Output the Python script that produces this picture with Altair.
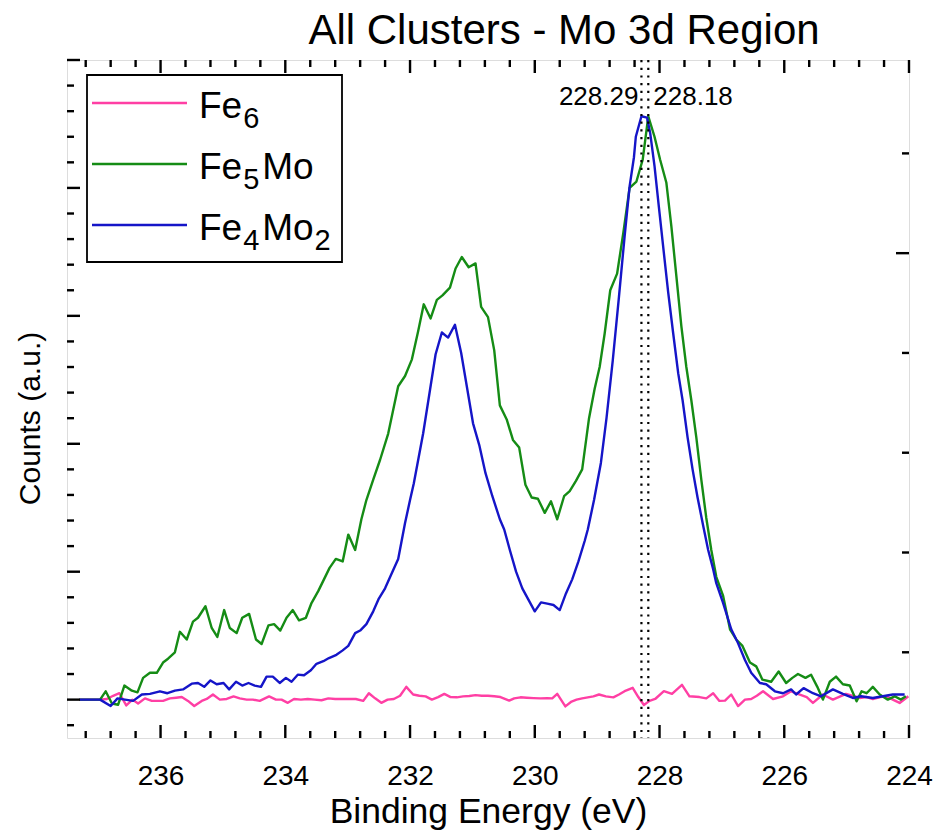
import altair as alt
import pandas as pd

FONT = "Liberation Sans"

# ---- Mo 3d spectra: binding energy (eV) and background-subtracted counts (a.u.) ----
fe6_energy = [237.30, 236.97, 236.86, 236.76, 236.66, 236.55, 236.45, 236.36, 236.25, 236.14,
              236.05, 235.96, 235.85, 235.75, 235.66, 235.56, 235.46, 235.34, 235.26, 235.16,
              235.05, 234.94, 234.83, 234.73, 234.62, 234.52, 234.41, 234.26, 234.15, 234.06,
              233.96, 233.86, 233.75, 233.64, 233.53, 233.42, 233.31, 233.20, 233.09, 232.98,
              232.87, 232.75, 232.66, 232.56, 232.46, 232.36, 232.26, 232.16, 232.06, 231.95,
              231.85, 231.75, 231.65, 231.55, 231.45, 231.35, 231.25, 231.15, 231.05, 230.95,
              230.85, 230.75, 230.65, 230.55, 230.45, 230.41, 230.33, 230.23, 230.13, 230.02,
              229.91, 229.80, 229.72, 229.64, 229.51, 229.41, 229.33, 229.24, 229.15, 229.06,
              228.97, 228.86, 228.74, 228.65, 228.56, 228.43, 228.34, 228.25, 228.16, 228.07,
              227.93, 227.80, 227.64, 227.52, 227.36, 227.25, 227.14, 227.04, 226.95, 226.85,
              226.74, 226.63, 226.53, 226.44, 226.34, 226.18, 226.02, 225.89, 225.75, 225.64,
              225.54, 225.38, 225.22, 225.01, 224.90, 224.79, 224.68, 224.58, 224.46, 224.36,
              224.26, 224.15, 224.01]
fe6_counts = [0.000, 0.000, 0.005, 0.030, 0.050, -0.045, 0.000, -0.030, 0.010, -0.010,
              -0.010, -0.010, 0.010, 0.015, 0.020, -0.010, -0.050, -0.010, 0.005, 0.040,
              0.000, 0.005, 0.025, 0.010, 0.000, 0.000, -0.010, 0.025, 0.000, 0.000,
              -0.025, 0.005, 0.000, 0.005, 0.000, -0.005, 0.010, 0.005, 0.005, 0.005,
              0.005, -0.010, 0.050, 0.010, -0.025, 0.000, 0.005, 0.030, 0.100, 0.040,
              0.030, 0.025, 0.000, 0.020, 0.045, 0.020, 0.018, 0.025, 0.028, 0.035,
              0.030, 0.030, 0.026, 0.020, 0.000, -0.008, 0.010, 0.018, 0.015, 0.012,
              0.010, 0.012, 0.010, 0.045, -0.053, -0.015, 0.000, 0.010, 0.018, 0.025,
              0.040, 0.025, 0.018, 0.040, 0.066, 0.092, 0.020, -0.042, -0.010, 0.005,
              0.066, 0.045, 0.116, 0.026, 0.020, 0.010, 0.050, -0.010, -0.008, 0.040,
              -0.050, 0.000, 0.005, 0.030, 0.065, 0.005, 0.026, 0.065, 0.040, 0.020,
              -0.026, 0.040, 0.000, 0.045, 0.030, 0.013, 0.020, 0.005, 0.020, 0.026,
              0.000, -0.026, 0.026]

fe5mo_energy = [237.30, 236.97, 236.88, 236.78, 236.68, 236.58, 236.46, 236.37, 236.28, 236.17,
                236.06, 235.96, 235.88, 235.77, 235.69, 235.58, 235.48, 235.40, 235.28, 235.18,
                235.09, 234.98, 234.89, 234.78, 234.69, 234.58, 234.47, 234.38, 234.27, 234.18,
                234.08, 233.98, 233.88, 233.78, 233.67, 233.58, 233.47, 233.38, 233.29, 233.19,
                233.08, 232.99, 232.88, 232.78, 232.70, 232.59, 232.48, 232.35, 232.19, 232.08,
                231.97, 231.87, 231.78, 231.67, 231.57, 231.48, 231.36, 231.27, 231.17, 231.06,
                230.95, 230.86, 230.75, 230.65, 230.56, 230.45, 230.35, 230.25, 230.15, 230.05,
                229.95, 229.84, 229.74, 229.64, 229.53, 229.44, 229.34, 229.24, 229.13, 229.04,
                228.96, 228.88, 228.79, 228.68, 228.58, 228.48, 228.37, 228.27, 228.18, 228.08,
                227.99, 227.89, 227.81, 227.73, 227.65, 227.57, 227.49, 227.41, 227.33, 227.25,
                227.17, 227.09, 226.98, 226.87, 226.77, 226.67, 226.55, 226.45, 226.35, 226.21,
                226.09, 225.97, 225.87, 225.78, 225.66, 225.57, 225.47, 225.38, 225.27, 225.17,
                225.06, 224.95, 224.84, 224.76, 224.68, 224.58, 224.47, 224.34, 224.23, 224.13,
                224.05]
fe5mo_counts = [0.000, 0.000, 0.065, -0.030, -0.040, 0.110, 0.070, 0.057, 0.170, 0.210,
                0.210, 0.290, 0.320, 0.370, 0.530, 0.470, 0.610, 0.640, 0.730, 0.560,
                0.490, 0.700, 0.560, 0.520, 0.640, 0.670, 0.470, 0.435, 0.580, 0.590,
                0.540, 0.640, 0.700, 0.620, 0.640, 0.755, 0.850, 0.940, 1.030, 1.100,
                1.080, 1.290, 1.170, 1.410, 1.560, 1.720, 1.875, 2.080, 2.450, 2.530,
                2.660, 2.880, 3.090, 2.980, 3.125, 3.160, 3.220, 3.370, 3.460, 3.380,
                3.410, 3.070, 2.990, 2.730, 2.300, 2.190, 2.030, 1.970, 1.680, 1.580,
                1.570, 1.460, 1.550, 1.410, 1.590, 1.630, 1.710, 1.800, 2.200, 2.430,
                2.600, 2.860, 3.200, 3.330, 3.650, 4.000, 4.050, 4.220, 4.560, 4.400,
                4.220, 4.040, 3.700, 3.310, 2.920, 2.600, 2.340, 2.050, 1.720, 1.420,
                1.170, 0.960, 0.810, 0.550, 0.470, 0.420, 0.290, 0.260, 0.156, 0.140,
                0.220, 0.130, 0.170, 0.200, 0.170, 0.195, 0.100, 0.000, 0.140, 0.180,
                0.120, 0.110, -0.013, 0.065, 0.050, 0.100, 0.040, 0.000, 0.026, 0.000,
                0.026]

fe4mo2_energy = [237.30, 236.97, 236.80, 236.69, 236.57, 236.44, 236.30, 236.17, 236.01, 235.89,
                 235.77, 235.64, 235.50, 235.40, 235.30, 235.20, 235.10, 234.99, 234.90, 234.79,
                 234.69, 234.59, 234.49, 234.39, 234.30, 234.20, 234.09, 233.99, 233.90, 233.80,
                 233.70, 233.59, 233.50, 233.39, 233.30, 233.18, 233.08, 232.99, 232.88, 232.80,
                 232.70, 232.59, 232.50, 232.40, 232.30, 232.19, 232.08, 232.00, 231.94, 231.79,
                 231.68, 231.59, 231.49, 231.39, 231.28, 231.18, 231.09, 230.99, 230.89, 230.79,
                 230.68, 230.56, 230.49, 230.40, 230.30, 230.20, 230.10, 230.00, 229.90, 229.80,
                 229.70, 229.60, 229.50, 229.40, 229.30, 229.20, 229.15, 229.05, 228.94, 228.85,
                 228.75, 228.65, 228.56, 228.48, 228.41, 228.38, 228.29, 228.20, 228.15, 228.08,
                 228.01, 227.93, 227.86, 227.78, 227.70, 227.63, 227.55, 227.47, 227.39, 227.30,
                 227.22, 227.14, 227.09, 226.98, 226.85, 226.74, 226.63, 226.53, 226.39, 226.29,
                 226.15, 226.02, 225.89, 225.81, 225.69, 225.54, 225.41, 225.22, 225.06, 224.90,
                 224.77, 224.58, 224.42, 224.26, 224.07]
fe4mo2_counts = [0.000, 0.000, -0.050, 0.010, 0.000, -0.010, 0.040, 0.045, 0.065, 0.050,
                 0.070, 0.080, 0.125, 0.130, 0.100, 0.150, 0.120, 0.130, 0.080, 0.140,
                 0.110, 0.130, 0.110, 0.100, 0.180, 0.180, 0.130, 0.170, 0.140, 0.195,
                 0.190, 0.230, 0.280, 0.300, 0.325, 0.350, 0.385, 0.420, 0.520, 0.540,
                 0.590, 0.690, 0.790, 0.870, 0.980, 1.100, 1.380, 1.560, 1.690, 2.080,
                 2.420, 2.700, 2.870, 2.830, 2.930, 2.710, 2.450, 2.160, 1.990, 1.770,
                 1.590, 1.410, 1.330, 1.170, 1.000, 0.870, 0.780, 0.690, 0.760, 0.750,
                 0.740, 0.700, 0.830, 0.940, 1.080, 1.240, 1.330, 1.560, 1.850, 2.200,
                 2.650, 3.150, 3.620, 4.010, 4.240, 4.400, 4.560, 4.550, 4.430, 4.170,
                 3.850, 3.490, 3.180, 2.860, 2.550, 2.340, 2.050, 1.800, 1.580, 1.360,
                 1.170, 1.020, 0.910, 0.755, 0.550, 0.440, 0.310, 0.210, 0.130, 0.120,
                 0.065, 0.050, 0.080, 0.040, 0.090, 0.050, 0.026, 0.080, 0.045, 0.013,
                 0.026, 0.013, 0.026, 0.040, 0.040]

series_names = ["Fe6", "Fe5Mo", "Fe4Mo2"]
series_colors = ["#ff3fa4", "#158c15", "#1515c8"]
# legend labels as (text, is_subscript) runs
legend_runs = [[("Fe", False), ("6", True)],
               [("Fe", False), ("5", True), ("Mo", False)],
               [("Fe", False), ("4", True), ("Mo", False), ("2", True)]]

# axis tick values
energy_major = [236, 234, 232, 230, 228, 226, 224]
energy_minor = [round(224 + 0.4 * k, 1) for k in range(34)]
energy_minor = [v for v in energy_minor if v not in energy_major]
counts_major = [0, 1, 2, 3, 4, 5]
counts_minor = [round(-0.2 + 0.2 * k, 1) for k in range(26)]
counts_minor = [v for v in counts_minor if abs(v - round(v)) > 1e-9]
right_major = [3.49]
right_minor = [4.27, 2.71, 1.93, 1.15, 0.37]

W, H = 842, 678
MAJ, MIN = 13, 7

x_scale = alt.Scale(domain=[224, 237.5], reverse=True, nice=False, zero=False)
y_scale = alt.Scale(domain=[-0.3, 5.0], nice=False, zero=False)
color_scale = alt.Scale(domain=series_names, range=series_colors)

frames = []
for name, e, c in [(series_names[0], fe6_energy, fe6_counts),
                   (series_names[1], fe5mo_energy, fe5mo_counts),
                   (series_names[2], fe4mo2_energy, fe4mo2_counts)]:
    frames.append(pd.DataFrame({"energy": e, "counts": c, "series": name}))
spectra = pd.concat(frames, ignore_index=True)

lines = alt.Chart(spectra).mark_line(strokeWidth=2.4, strokeJoin="round").encode(
    x=alt.X("energy:Q", scale=x_scale,
            axis=alt.Axis(values=energy_major, format="d", grid=False, ticks=False, tickSize=0,
                          domain=False, labelFont=FONT, labelFontSize=28, labelColor="black",
                          labelPadding=24, labelFlush=False,
                          title="Binding Energy (eV)", titleFont=FONT, titleFontSize=35.5,
                          titleFontWeight="normal", titleColor="black",
                          titleBaseline="alphabetic", titleY=84)),
    y=alt.Y("counts:Q", scale=y_scale,
            axis=alt.Axis(labels=False, ticks=False, domain=False, grid=False,
                          title="Counts (a.u.)", titleFont=FONT, titleFontSize=30,
                          titleFontWeight="normal", titleColor="black", titleAngle=-90,
                          titleAlign="center", titleBaseline="middle",
                          titleX=-37, titleY=358)),
    color=alt.Color("series:N", scale=color_scale, legend=None),
    detail="series:N",
)

# frame ticks, pointing inward on all four sides
def x_ticks(vals, y0, y1):
    return alt.Chart(pd.DataFrame({"energy": vals})).mark_rule(color="black", strokeWidth=2.4).encode(
        x=alt.X("energy:Q", scale=x_scale), y=alt.value(y0), y2=alt.value(y1))

def y_ticks(vals, x0, x1):
    return alt.Chart(pd.DataFrame({"counts": vals})).mark_rule(color="black", strokeWidth=2.4).encode(
        y=alt.Y("counts:Q", scale=y_scale), x=alt.value(x0), x2=alt.value(x1))

ticks = [
    x_ticks(energy_major, H, H - MAJ), x_ticks(energy_minor, H, H - MIN),
    x_ticks(energy_major, 0, MAJ), x_ticks(energy_minor, 0, MIN),
    y_ticks(counts_major, 0, MAJ), y_ticks(counts_minor, 0, MIN),
    y_ticks(right_major, W, W - MAJ), y_ticks(right_minor, W, W - MIN),
]

# peak maxima of the Mo-containing clusters
peaks = []
for name, e, c in [(series_names[2], fe4mo2_energy, fe4mo2_counts),
                   (series_names[1], fe5mo_energy, fe5mo_counts)]:
    i = max(range(len(c)), key=lambda k: c[k])
    peaks.append({"series": name, "energy": e[i], "label": f"{e[i]:.2f}"})
peak_df = pd.DataFrame(peaks)

peak_lines = alt.Chart(peak_df).mark_rule(color="black", strokeWidth=2.2, strokeDash=[2.2, 5.5]).encode(
    x=alt.X("energy:Q", scale=x_scale), y=alt.value(0), y2=alt.value(H))

peak_left = alt.Chart(peak_df.iloc[[0]]).mark_text(
    font=FONT, fontSize=26, align="right", baseline="middle", dx=-3, color="black").encode(
    x=alt.X("energy:Q", scale=x_scale), y=alt.value(37), text="label:N")
peak_right = alt.Chart(peak_df.iloc[[1]]).mark_text(
    font=FONT, fontSize=26, align="left", baseline="middle", dx=5, color="black").encode(
    x=alt.X("energy:Q", scale=x_scale), y=alt.value(37), text="label:N")

# chart title, drawn above the frame
title = alt.Chart(pd.DataFrame({"t": ["All Clusters - Mo 3d Region"]})).mark_text(
    font=FONT, fontSize=42, align="center", baseline="alphabetic", color="black").encode(
    x=alt.value(497), y=alt.value(-16), text="t:N")

# legend box with line samples and subscripted labels
LEG_FS, SUB_FS, SUB_SHIFT, SUB_ADV = 37, 29, 10, 19.0
ADV = {"F": 0.611, "e": 0.556, "M": 0.833, "o": 0.556}

legend_box = alt.Chart(pd.DataFrame({"k": [0]})).mark_rect(
    fill="white", stroke="black", strokeWidth=1.8).encode(
    x=alt.value(20), x2=alt.value(275), y=alt.value(15), y2=alt.value(202))

legend_layers = [legend_box]
for i, name in enumerate(series_names):
    row = pd.DataFrame({"series": [name]})
    legend_layers.append(alt.Chart(row).mark_rule(strokeWidth=2.4).encode(
        x=alt.value(25), x2=alt.value(120), y=alt.value(43 + 61 * i),
        color=alt.Color("series:N", scale=color_scale, legend=None)))
    x = 132.0
    for text, sub in legend_runs[i]:
        fs = SUB_FS if sub else LEG_FS
        base = 58 + 61 * i + (SUB_SHIFT if sub else 0)
        legend_layers.append(alt.Chart(pd.DataFrame({"t": [text]})).mark_text(
            font=FONT, fontSize=fs, align="left", baseline="alphabetic", color="black").encode(
            x=alt.value(x), y=alt.value(base), text="t:N"))
        x += SUB_ADV if sub else sum(ADV.get(ch, 0.556) for ch in text) * fs + 1

chart = alt.layer(
    lines, *ticks, peak_lines, peak_left, peak_right, title, *legend_layers
).properties(
    width=W, height=H,
    autosize=alt.AutoSizeParams(type="none"),
    padding={"left": 67, "top": 60, "right": 31, "bottom": 100},
).configure_view(stroke="black", strokeWidth=3).configure(background="white")

chart.save("out.html", embed_options={"renderer": "svg", "actions": False})
